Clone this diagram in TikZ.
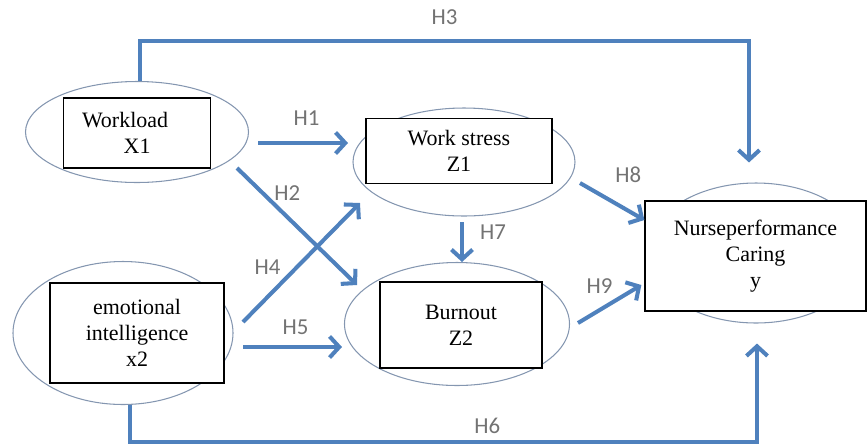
\documentclass[tikz,border=0pt]{standalone}
\usepackage{fontspec}
\setmainfont{Liberation Serif}
\newfontfamily\lblfont{Carlito}
\usetikzlibrary{shapes.geometric,arrows.meta}
\definecolor{linkblue}{HTML}{4F81BD}
\definecolor{ovalgray}{HTML}{8496B0}
\tikzset{
  oval/.style={ellipse, draw=ovalgray, line width=0.6pt, inner sep=0pt},
  box/.style={rectangle, draw, line width=0.7pt, fill=white, align=center, font=\fontsize{12.5}{14.8}\selectfont},
  arr/.style={draw=linkblue, line width=2.3pt, -{Straight Barb[length=5.5pt,width=12pt]}},
  lbl/.style={font=\lblfont\fontsize{13}{15}\selectfont, text=black!55, inner sep=0pt}
}
\begin{document}
\begin{tikzpicture}[x=0.2mm, y=-0.2mm]
\useasboundingbox (0,0) rectangle (868,446);
% ovals
\node (wlE) [oval, minimum width=4.46cm, minimum height=2.02cm] at (137,132) {};
\node (eiE) [oval, minimum width=4.40cm, minimum height=2.86cm] at (123,333) {};
\node (wsE) [oval, minimum width=4.44cm, minimum height=2.16cm] at (464,162) {};
\node (bnE) [oval, minimum width=4.50cm, minimum height=2.46cm] at (457,324) {};
\node (npE) [oval, minimum width=4.36cm, minimum height=2.80cm] at (756,253) {};
% boxes
\node (wl) [box, minimum width=2.94cm, minimum height=1.40cm, text width=2.2cm, align=left] at (137,133) {Workload\\\hspace*{1.9em}X1};
\node (ei) [box, minimum width=3.48cm, minimum height=2.00cm] at (137,333) {emotional\\intelligence\\x2};
\node (ws) [box, minimum width=3.72cm, minimum height=1.30cm] at (459,151) {Work stress\\Z1};
\node (bn) [box, minimum width=3.24cm, minimum height=1.72cm] at (461,325) {Burnout\\Z2};
\node (np) [box, minimum width=4.42cm, minimum height=2.20cm] at (755.5,256) {Nurseperformance\\Caring\\y};
% paths
\draw[arr] ([shift={(121,11)}]wlE.center) -- node[lbl, pos=0.54, above=0.3cm] {H1} ([shift={(-116,-19)}]wsE.center);
\draw[arr] ([shift={(100,36)}]wlE.center) -- node[lbl, pos=0.42, above=0.3cm] {H2} ([shift={(-100,-39)}]bnE.center);
\draw[arr] ([shift={(3,0)}]wlE.north) -- ++(0,-40) -| node[lbl, pos=0.25, above=0.28cm] {H3} ([shift={(-7,-20)}]npE.north);
\draw[arr] ([shift={(120,-11)}]eiE.center) -- node[lbl, pos=0.21, above=0.4cm] {H4} ([shift={(-104,41)}]wsE.center);
\draw[arr] ([shift={(120,14)}]eiE.center) -- node[lbl, pos=0.53, above=0.2cm] {H5} ([shift={(-115,23)}]bnE.center);
\draw[arr] ([shift={(7,0)}]eiE.south) -- ++(0,37) -| node[lbl, pos=0.285, above=0.12cm] {H6} ([shift={(1,20)}]npE.south);
\draw[arr] ([shift={(-2,60)}]wsE.center) -- node[lbl, pos=0.25, right=0.32cm] {H7} ([shift={(5,-62)}]bnE.center);
\draw[arr] ([shift={(116,21)}]wsE.center) -- node[lbl, pos=0.75, above=0.52cm] {H8} ([shift={(0,-36)}]np.west);
\draw[arr] ([shift={(121,-1)}]bnE.center) -- node[lbl, pos=0.34, above=0.3cm] {H9} ([shift={(-3,29)}]np.west);
\end{tikzpicture}
\end{document}
